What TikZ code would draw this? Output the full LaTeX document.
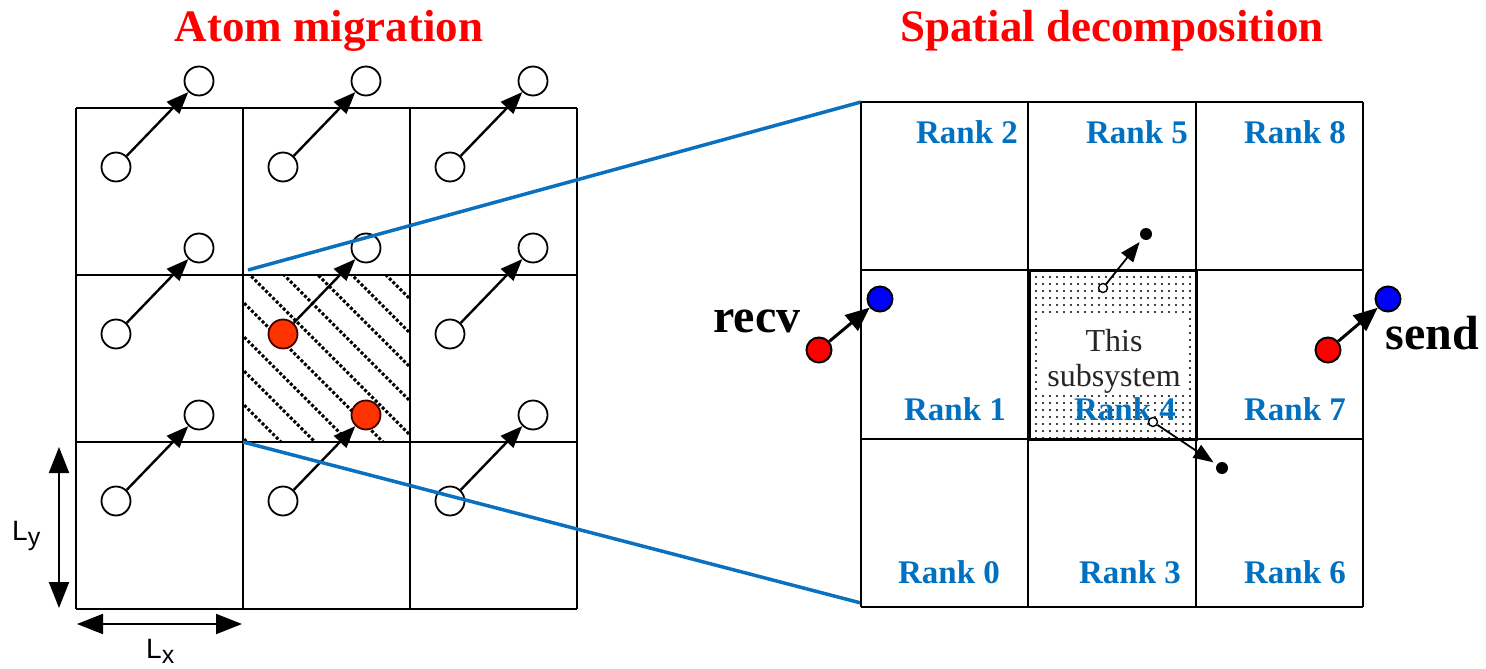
\documentclass[tikz,border=0pt]{standalone}
\usepackage{fontspec}
\setmainfont{Liberation Serif}
\newfontfamily\sansf{Liberation Sans}
\usetikzlibrary{arrows.meta,patterns.meta}
\definecolor{rankblue}{HTML}{0070C0}
\definecolor{atomred}{HTML}{FF3300}
\definecolor{linkblue}{HTML}{0A70C0}
\tikzset{
  cellline/.style={line width=2pt},
  atom/.style={circle,draw,line width=1.8pt,minimum size=29pt,inner sep=0pt,fill=white},
  hotatom/.style={atom,fill=atomred,draw=black!75!red},
  hop/.style={line width=2.4pt,-{Triangle[length=22pt,width=17pt]}},
  hatch/.style={line width=3pt,dash pattern=on 3pt off 2pt},
  ranklbl/.style={font=\fontsize{33}{36}\selectfont\bfseries,text=rankblue,anchor=base,inner sep=0pt},
  title/.style={font=\fontsize{45}{50}\selectfont\bfseries,text=red,anchor=base,inner sep=0pt},
  bigword/.style={font=\fontsize{48}{52}\selectfont\bfseries,anchor=base,inner sep=0pt},
  ball/.style={circle,draw,line width=2pt,minimum size=25pt,inner sep=0pt},
  xfer/.style={line width=3pt,-{Triangle[length=24pt,width=20pt]}},
  span/.style={line width=2pt,{Triangle[length=26pt,width=20pt]}-{Triangle[length=26pt,width=20pt]}},
  dimlbl/.style={font=\sansf\fontsize{28}{30}\selectfont,inner sep=0pt},
  zoomline/.style={linkblue,line width=3.5pt},
  ghost/.style={circle,draw,fill=white,line width=1.4pt,minimum size=9pt,inner sep=0pt},
  dot/.style={circle,fill=black,minimum width=11pt,minimum height=12pt,inner sep=0pt},
  smallhop/.style={line width=1.8pt,-{Triangle[length=20pt,width=15pt]},shorten >=4pt},
}
\newcommand{\subidx}[1]{\raisebox{-5pt}{\fontsize{25}{27}\selectfont #1}}
\begin{document}
\begin{tikzpicture}[x=1pt,y=-1pt]
\useasboundingbox (0,0) rectangle (1486,669);

% ---------- titles ----------
\node[title] (t1) at (329,42) {Atom migration};
\node[title] (t2) at (1112,42) {Spatial decomposition};

% ---------- left: migrating atoms ----------
% hatched subsystem
\begin{scope}
  \clip (243,275) rectangle (410,442);
  \foreach \c in {-195,-161,...,140}
    \draw[hatch] (223,{223-\c}) -- (430,{430-\c});
\end{scope}
% cell lines
\foreach \i in {0,1,2,3} {
  \draw[cellline] ({76+167*\i},108) -- ({76+167*\i},609);
  \draw[cellline] (76,{108+167*\i}) -- (577,{108+167*\i});
}
% atoms and their moves
\foreach \c/\r/\s/\e in {0/0/atom/atom,1/0/atom/atom,2/0/atom/atom,
                         0/1/atom/atom,1/1/hotatom/atom,2/1/atom/atom,
                         0/2/atom/atom,1/2/atom/hotatom,2/2/atom/atom} {
  \node[\s] (s\c\r) at ({76+167*\c+40},{108+167*\r+59}) {};
  \node[\e] (e\c\r) at ({76+167*\c+123},{108+167*\r-27}) {};
  \draw[hop] (s\c\r) -- (e\c\r);
}
% cell size
\coordinate (ly1) at (59,447);
\coordinate (ly2) at (59,608);
\coordinate (lx1) at (77,624);
\coordinate (lx2) at (242,624);
\draw[span] (ly1) -- (ly2);
\draw[span] (lx1) -- (lx2);
\node[dimlbl,anchor=base west] (ly) at (12,540) {L\subidx{y}};
\node[dimlbl,anchor=base west] (lx) at (146,658) {L\subidx{x}};

% ---------- zoom lines ----------
\coordinate (za) at (248,270);
\coordinate (zb) at (861,102);
\coordinate (zc) at (243,442);
\coordinate (zd) at (861,603);
\draw[zoomline] (za) -- (zb);
\draw[zoomline] (zc) -- (zd);

% ---------- right: spatial decomposition ----------
\fill[pattern={Dots[distance=7pt,radius=1.2pt]}] (1028,270) rectangle (1196,439);
\fill[white] (1042,316) rectangle (1188,392);
\node[font=\fontsize{32}{36}\selectfont,text=black!85,anchor=base,inner sep=0pt] (this) at (1114,351) {This};
\node[font=\fontsize{32}{36}\selectfont,text=black!85,anchor=base,inner sep=0pt] (sub) at (1114,386) {subsystem};
\foreach \x in {861,1028,1196,1363}
  \draw[cellline] (\x,102) -- (\x,607);
\foreach \y in {102,270,439,607}
  \draw[cellline] (861,\y) -- (1363,\y);
\draw[line width=3pt] (1029,270) rectangle (1196,439);

\node[ranklbl] (r2) at (967,143) {Rank 2};
\node[ranklbl] (r5) at (1137,143) {Rank 5};
\node[ranklbl] (r8) at (1295,143) {Rank 8};
\node[ranklbl] (r1) at (955,420) {Rank 1};
\node[ranklbl] (r4) at (1125,420) {Rank 4};
\node[ranklbl] (r7) at (1295,420) {Rank 7};
\node[ranklbl] (r0) at (949,583) {Rank 0};
\node[ranklbl] (r3) at (1130,583) {Rank 3};
\node[ranklbl] (r6) at (1295,583) {Rank 6};

% atoms leaving the subsystem
\node[ghost] (g1) at (1103,288) {};
\node[dot] (d1) at (1146,234) {};
\draw[smallhop] (g1) -- (d1);
\node[ghost] (g2) at (1153,422) {};
\node[dot] (d2) at (1222,468) {};
\draw[smallhop] (g2) -- (d2);

% recv / send
\node[ball,fill=red] (rr) at (819,350) {};
\node[ball,fill=blue] (rb) at (880,299) {};
\draw[xfer] (rr) -- (rb);
\node[bigword] (recv) at (757,332) {recv};
\node[ball,fill=red] (sr) at (1328,350) {};
\node[ball,fill=blue] (sb) at (1388,299) {};
\draw[xfer] (sr) -- (sb);
\node[bigword] (send) at (1432,349) {send};
\end{tikzpicture}
\end{document}
